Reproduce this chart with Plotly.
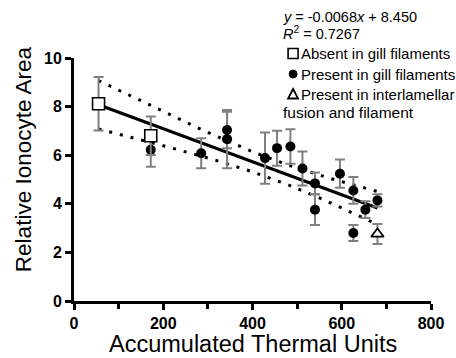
import numpy as np
import plotly.graph_objects as go

# Group means and SDs of relative ionocyte area vs accumulated thermal units (ATU)
absent_atu = [55, 172]
absent_area = [8.12, 6.80]
absent_sd = [1.10, 0.79]

present_atu = [172, 285, 343, 343, 428, 455, 485, 512, 540, 540, 596, 626, 626, 653, 680]
present_area = [6.22, 6.08, 7.04, 6.66, 5.88, 6.29, 6.36, 5.45, 4.84, 3.76, 5.24, 4.55, 2.80, 3.76, 4.14]
present_sd = [0.70, 0.62, 0.75, 1.20, 1.05, 0.72, 0.71, 0.70, 0.45, 0.63, 0.58, 0.55, 0.33, 0.34, 0.25]

fusion_atu = [680]
fusion_area = [2.76]
fusion_sd = [0.41]

# Linear fit reported on the chart
slope = -0.0068
intercept = 8.450
r_squared = 0.7267

# 95% confidence band of the fit: half-width at the mean ATU and its growth away from it
band_center = 445.0
band_min_half = 0.40
band_spread = 0.00234

x_tick_vals = [0, 200, 400, 600, 800]
y_tick_vals = [0, 2, 4, 6, 8, 10]

FONT = "Liberation Sans"
GREY = "#808080"

# plot-area geometry (pixels) used for placing text and key symbols outside the axes
W, H = 456, 358
L, R, T, B = 74, 17, 58, 57


def px(x):
    return (x - L) / (W - L - R)


def py(y):
    return (H - B - y) / (H - T - B)


all_x = absent_atu + present_atu + fusion_atu
xfit = np.linspace(min(all_x), max(all_x), 200)
yfit = slope * xfit + intercept
half = np.sqrt(band_min_half ** 2 + (band_spread * (xfit - band_center)) ** 2)

fig = go.Figure()

dot_line = dict(color="black", width=3, dash="3px,8px")
fig.add_trace(go.Scatter(x=xfit, y=yfit + half, mode="lines", line=dot_line,
                         hoverinfo="skip", showlegend=False))
fig.add_trace(go.Scatter(x=xfit, y=yfit - half, mode="lines", line=dot_line,
                         hoverinfo="skip", showlegend=False))
fig.add_trace(go.Scatter(x=xfit, y=yfit, mode="lines",
                         line=dict(color="black", width=3),
                         hoverinfo="skip", showlegend=False))

err_style = dict(type="data", visible=True, color=GREY, thickness=2, width=5)

fig.add_trace(go.Scatter(
    x=present_atu, y=present_area, mode="markers", name="Present in gill filaments",
    error_y=dict(array=present_sd, **err_style),
    marker=dict(symbol="circle", size=10, color="black"),
    showlegend=False))
fig.add_trace(go.Scatter(
    x=absent_atu, y=absent_area, mode="markers", name="Absent in gill filaments",
    error_y=dict(array=absent_sd, **err_style),
    marker=dict(symbol="square", size=12, color="white",
                line=dict(color="black", width=1.6)),
    showlegend=False))
fig.add_trace(go.Scatter(
    x=fusion_atu, y=fusion_area, mode="markers",
    name="Present in interlamellar fusion and filament",
    error_y=dict(array=fusion_sd, **err_style),
    marker=dict(symbol="triangle-up", size=11, color="white",
                line=dict(color="black", width=1.8)),
    showlegend=False))

# key: symbols as pixel-sized shapes, labels as annotations
key_x = 298
key_y = [53.5, 74.0, 94.0]
shapes = [
    dict(type="rect", xref="paper", yref="paper", xsizemode="pixel", ysizemode="pixel",
         xanchor=px(key_x), yanchor=py(key_y[0]), x0=-5, x1=5, y0=-5, y1=5,
         line=dict(color="black", width=1.6), fillcolor="white"),
    dict(type="circle", xref="paper", yref="paper", xsizemode="pixel", ysizemode="pixel",
         xanchor=px(key_x), yanchor=py(key_y[1]), x0=-4, x1=4, y0=-4, y1=4,
         line=dict(color="black", width=1), fillcolor="black"),
    dict(type="path", xref="paper", yref="paper", xsizemode="pixel", ysizemode="pixel",
         xanchor=px(key_x), yanchor=py(key_y[2]),
         path="M -5 -4.5 L 5 -4.5 L 0 5 Z",
         line=dict(color="black", width=1.8), fillcolor="white"),
]

annotations = []
key_text = [("Absent in gill filaments", 304, key_y[0], 15),
            ("Present in gill filaments", 304, key_y[1], 15),
            ("Present in interlamellar", 304, key_y[2], 15),
            ("fusion and filament", 286, 112.5, 15.5)]
for txt, tx, ty, fs in key_text:
    annotations.append(dict(
        x=px(tx), y=py(ty), xref="paper", yref="paper",
        xanchor="left", yanchor="middle", text=txt, showarrow=False,
        font=dict(family=FONT, size=fs, color="black")))

annotations.append(dict(
    x=px(286), y=py(16.5), xref="paper", yref="paper", xanchor="left", yanchor="middle",
    text=f"<i>y</i> = {slope:.4f}<i>x</i> + {intercept:.3f}", showarrow=False,
    font=dict(family=FONT, size=14.5, color="black")))
annotations.append(dict(
    x=px(286), y=py(33), xref="paper", yref="paper", xanchor="left", yanchor="middle",
    text=f"<i>R</i><sup>2</sup> = {r_squared:.4f}", showarrow=False,
    font=dict(family=FONT, size=14.5, color="black")))

annotations.append(dict(
    x=px(22), y=py(159), xref="paper", yref="paper", xanchor="center", yanchor="middle",
    text="Relative Ionocyte Area", textangle=-90, showarrow=False,
    font=dict(family=FONT, size=22.5, color="black")))
annotations.append(dict(
    x=px(257), y=py(344), xref="paper", yref="paper", xanchor="center", yanchor="middle",
    text="Accumulated Thermal Units", showarrow=False,
    font=dict(family=FONT, size=23.5, color="black")))

tick_font = dict(family=FONT, size=16, color="black", weight="bold")

fig.update_layout(
    width=W, height=H,
    margin=dict(l=L, r=R, t=T, b=B, pad=0),
    paper_bgcolor="white", plot_bgcolor="white",
    showlegend=False,
    xaxis=dict(range=[0, 800], tickvals=x_tick_vals, showgrid=False, zeroline=False,
               showline=True, linecolor="black", linewidth=3,
               ticks="outside", ticklen=6, tickwidth=2.5, tickcolor="black",
               minor=dict(dtick=100, ticks="outside", ticklen=5, tickwidth=2.5,
                          tickcolor="black", showgrid=False),
               tickfont=tick_font),
    yaxis=dict(range=[0, 10], tickvals=y_tick_vals, showgrid=False, zeroline=False,
               showline=True, linecolor="black", linewidth=3,
               ticks="outside", ticklen=6, tickwidth=2.5, tickcolor="black",
               tickfont=tick_font),
    shapes=shapes,
    annotations=annotations,
)

fig.write_html("out.html")
